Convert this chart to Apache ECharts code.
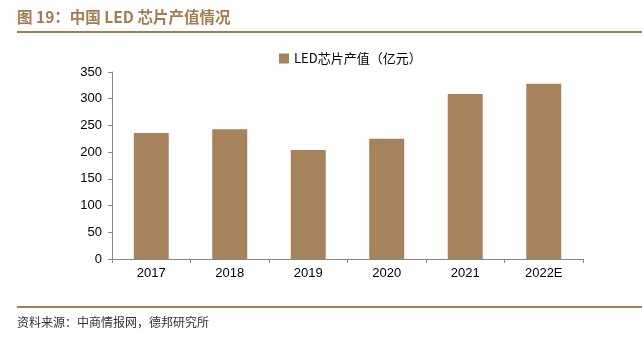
<!DOCTYPE html>
<html><head><meta charset="utf-8">
<script src="https://cdn.jsdelivr.net/npm/echarts@6/dist/echarts.min.js"></script>
<style>html,body{margin:0;padding:0;background:#fff}#c{width:642px;height:338px}</style>
</head><body><div id="c"></div>
<script>
const categories = ['2017','2018','2019','2020','2021','2022E'];
const values = [236, 243, 204, 225, 309, 328];
const seriesName = 'LED芯片产值（亿元）';
const titleText = '图 19：中国 LED 芯片产值情况';
const sourceText = '资料来源：中商情报网，德邦研究所';

const chart = echarts.init(document.getElementById('c'), null, {renderer:'canvas'});
chart.setOption({
  animation:false,
  graphic:[
    {type:'text', left:17, top:9, style:{text:titleText, fill:'#a57c52', font:'bold 15.5px "Noto Sans CJK SC"'}},
    {type:'rect', shape:{x:17,y:31,width:625,height:2}, style:{fill:'#a57c52'}},
    {type:'rect', shape:{x:17,y:306,width:625,height:2}, style:{fill:'#a57c52'}},
    {type:'text', left:17, top:316, style:{text:sourceText, fill:'#333', font:'12px "Noto Sans CJK SC"'}}
  ],
  legend:{top:47, left:274, itemWidth:10, itemHeight:10, itemGap:3,
    textStyle:{fontSize:13, color:'#000', fontFamily:'"Noto Sans CJK SC"'},
    data:[{name:seriesName, icon:'rect'}]},
  grid:{left:112, right:59, top:72, bottom:79},
  xAxis:{type:'category', data:categories,
    axisLine:{lineStyle:{color:'#888'}},
    axisTick:{show:true, inside:false, length:4, lineStyle:{color:'#888'}},
    axisLabel:{color:'#000', fontSize:13, margin:8, fontFamily:'Liberation Sans'}},
  yAxis:{type:'value', min:0, max:350, interval:50,
    axisLine:{show:true, lineStyle:{color:'#888'}},
    axisTick:{show:true, length:4, lineStyle:{color:'#888'}},
    splitLine:{show:false},
    axisLabel:{color:'#000', fontSize:13, margin:10, fontFamily:'Liberation Sans'}},
  series:[{name:seriesName, type:'bar', data:values, barWidth:35,
    itemStyle:{color:'#a6835c'}}]
});
</script></body></html>
